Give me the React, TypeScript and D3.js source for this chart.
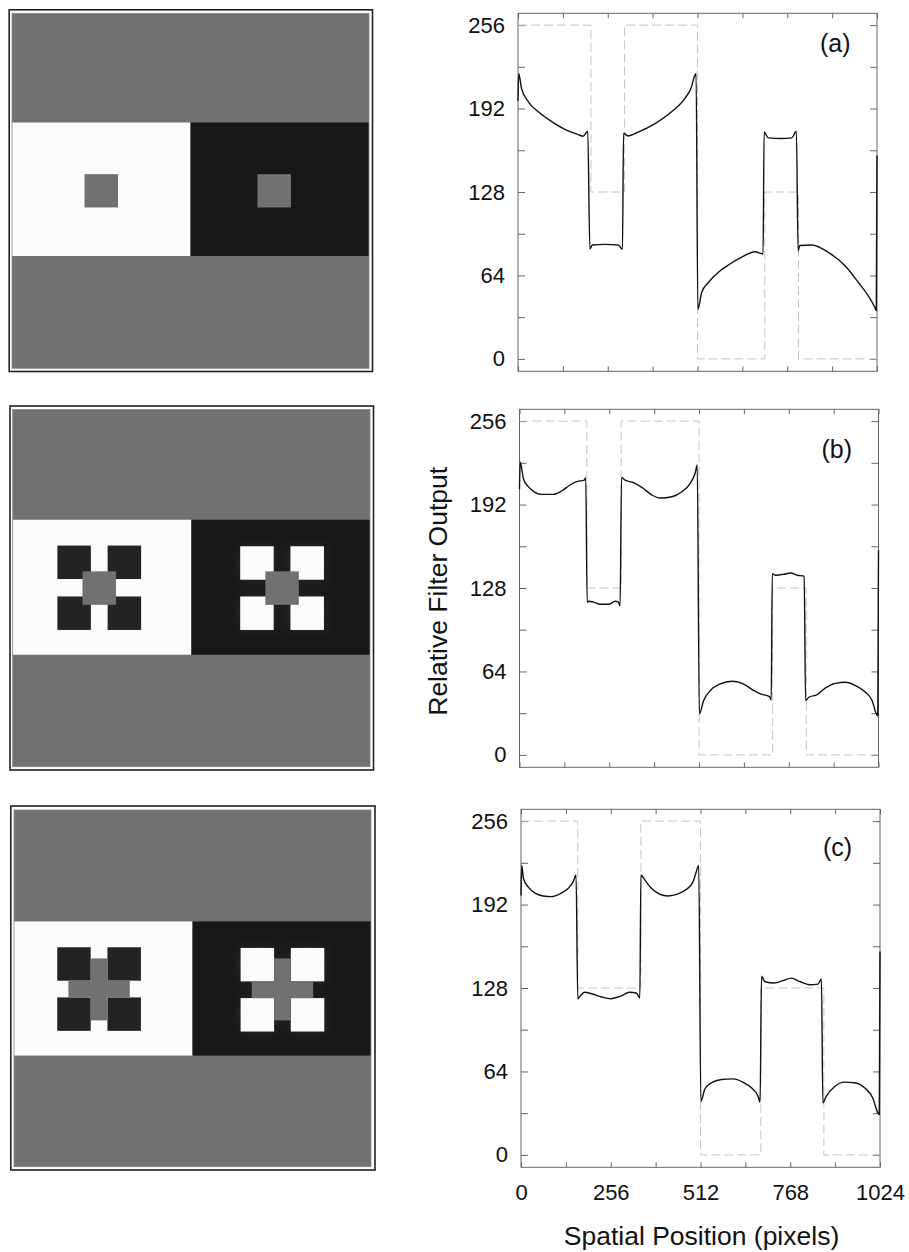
import { useEffect, useRef } from "react";
import * as d3 from "d3";

type Pt = [number, number];
type Patch = [number, number, number, number, string];

const xTicks = [0, 128, 256, 384, 512, 640, 768, 896, 1024];
const xLabels = [0, 256, 512, 768, 1024];
const yTicks = [0, 32, 64, 96, 128, 160, 192, 224, 256];
const yLabels = [0, 64, 128, 192, 256];
const panelNames = ["(a)", "(b)", "(c)"];

// input luminance profiles (dashed)
const inputA: Pt[] = [[0, 256], [208, 256], [208, 128], [304, 128], [304, 256], [512, 256], [512, 0], [704, 0], [704, 128], [800, 128], [800, 0], [1024, 0]];
const inputB: Pt[] = [[0, 256], [192, 256], [192, 128], [290, 128], [290, 256], [512, 256], [512, 0], [722, 0], [722, 128], [818, 128], [818, 0], [1024, 0]];
const inputC: Pt[] = [[0, 256], [162, 256], [162, 128], [342, 128], [342, 256], [512, 256], [512, 0], [684, 0], [684, 128], [864, 128], [864, 0], [1024, 0]];

// filter output (solid)
const outputA: Pt[] = [
  [0, 198], [2, 219], [10, 207.5], [30, 197], [58, 189.5], [96, 182], [134, 176], [172, 172], [186, 170.8], [199, 174.6],
  [205, 84.3], [212, 87.4], [248, 87.8], [286, 87.4], [298, 84], [301, 173], [314, 171], [343, 174], [391, 180.5],
  [438, 189.5], [476, 199.8], [495, 208.7], [503, 216.5], [508, 219], [513, 38], [524, 51], [543, 58.6], [571, 66.3],
  [600, 72], [638, 78], [676, 82.2], [699, 80.5], [702, 174], [714, 169.5], [752, 169], [781, 169.5], [794, 174.6],
  [799, 83], [804, 87], [838, 87.4], [885, 81.7], [933, 71.5], [971, 58.6], [999, 48.4], [1018, 39.4], [1022, 37], [1024, 156],
];
const outputB: Pt[] = [
  [0, 204], [2, 224.5], [11, 212], [25, 205.7], [44, 201.4], [63, 199.8], [96, 199.8], [120, 202.4], [144, 207],
  [163, 209.6], [185, 210.8], [189, 212.6], [193, 117.2], [197, 117.8], [211, 117.2], [230, 115.5], [254, 115.5],
  [273, 117.8], [282, 117.2], [287, 114.2], [291, 212.6], [301, 210.8], [325, 208.8], [349, 205.2], [378, 199.3],
  [401, 197], [435, 198], [463, 201.8], [487, 208.3], [501, 216], [507, 222.4], [513, 31.4], [525, 41.6], [544, 49.3],
  [573, 54.5], [606, 56.5], [635, 54.9], [663, 50.3], [687, 46.8], [713, 44.7], [718, 42.1], [721, 139], [730, 137.8],
  [754, 138.5], [773, 139.5], [792, 137.8], [812, 137], [816, 41.6], [825, 44.2], [849, 46.2], [873, 51.4], [901, 54.9],
  [930, 55.7], [958, 53.2], [987, 48], [1006, 41.6], [1018, 31.4], [1022, 30], [1024, 157],
];
const outputC: Pt[] = [
  [0, 199], [2, 222], [7, 212], [21, 205.3], [40, 200.7], [63, 198.6], [87, 198.1], [111, 200.2], [135, 204.5],
  [149, 209.6], [157, 214.7], [162, 119.6], [168, 121.6], [182, 124.7], [201, 123.6], [230, 121.1], [256, 119.8],
  [282, 121.6], [310, 124.7], [329, 124.2], [339, 120.3], [342, 214.7], [353, 210.9], [372, 204.5], [396, 199.9],
  [419, 198.6], [448, 200.2], [472, 203.7], [491, 209.6], [500, 217.2], [507, 222], [513, 41], [524, 50.2], [543, 55.3],
  [572, 57.8], [605, 58.3], [633, 55.8], [657, 51.5], [676, 45.1], [682, 40.5], [686, 137], [695, 133], [723, 131.8],
  [747, 133.6], [771, 135.6], [795, 133], [823, 130.5], [847, 131], [857, 134.9], [861, 40], [871, 45.1], [894, 52.3],
  [923, 55.8], [951, 55.3], [980, 51.5], [1003, 43.8], [1018, 32.3], [1022, 31], [1024, 156],
];

// stimulus images, in image pixels (1024 x 1024): centre band rows and patches
const bandA: Pt = [315, 700];
const bandB: Pt = [316, 703];
const bandC: Pt = [320, 705];
const patchesA: Patch[] = [
  [208, 304, 464, 560, "gray"], [704, 800, 464, 560, "gray"],
];
const patchesB: Patch[] = [
  [128, 224, 390, 486, "dark"], [272, 368, 390, 486, "dark"], [128, 224, 536, 632, "dark"], [272, 368, 536, 632, "dark"],
  [200, 296, 464, 560, "gray"],
  [652, 748, 392, 488, "white"], [796, 892, 392, 488, "white"], [652, 748, 536, 632, "white"], [796, 892, 536, 632, "white"],
  [724, 820, 464, 560, "gray"],
];
const patchesC: Patch[] = [
  [124, 220, 394, 490, "dark"], [268, 364, 394, 490, "dark"], [124, 220, 538, 634, "dark"], [268, 364, 538, 634, "dark"],
  [220, 268, 426, 604, "gray"], [156, 332, 490, 538, "gray"],
  [650, 746, 396, 492, "white"], [794, 890, 396, 492, "white"], [650, 746, 540, 636, "white"], [794, 890, 540, 636, "white"],
  [746, 794, 426, 604, "gray"], [682, 858, 492, 540, "gray"],
];

const tones: Record<string, string> = { gray: "#717171", white: "#fcfcfc", black: "#171717", dark: "#232323" };

const imgBoxes = [
  { ox: 9.2, oy: 9.8, ow: 363.3, oh: 361.7, x: 12, y: 13.3, w: 357, h: 355 },
  { ox: 10, oy: 406, ow: 363.5, oh: 364, x: 12.7, y: 409.5, w: 357.3, h: 357.2 },
  { ox: 10.8, oy: 806, ow: 364.2, oh: 364, x: 14, y: 810, w: 357, h: 356.7 },
];
const plotBoxes = [
  { left: 518, top: 13.3, labelDy: 38.5 },
  { left: 519.5, top: 409.3, labelDy: 48.5 },
  { left: 521, top: 809.3, labelDy: 46.5 },
];
const PLOT_W = 359;
const PLOT_H = 358;
const FONT = "'Liberation Sans', Arial, Helvetica, sans-serif";

const App = () => {
  const ref = useRef<SVGSVGElement>(null);

  useEffect(() => {
    const svg = d3.select(ref.current);
    svg.selectAll("*").remove();
    svg
      .append("defs")
      .append("filter")
      .attr("id", "halo")
      .attr("x", "-50%")
      .attr("y", "-50%")
      .attr("width", "200%")
      .attr("height", "200%")
      .append("feGaussianBlur")
      .attr("stdDeviation", 7);

    const bands = [bandA, bandB, bandC];
    const patches = [patchesA, patchesB, patchesC];
    imgBoxes.forEach((b, i) => drawStimulus(svg, b, bands[i], patches[i]));

    const inputs = [inputA, inputB, inputC];
    const outputs = [outputA, outputB, outputC];
    plotBoxes.forEach((p, i) => drawPlot(svg, p, inputs[i], outputs[i], panelNames[i], i === 2));

    // axis titles
    const pb = plotBoxes[1];
    svg
      .append("text")
      .attr("transform", `translate(447,${pb.top + PLOT_H / 2 + 3}) rotate(-90)`)
      .attr("text-anchor", "middle")
      .attr("font-size", 26.5)
      .attr("font-family", FONT)
      .attr("fill", "#111")
      .text("Relative Filter Output");
    const pc = plotBoxes[2];
    svg
      .append("text")
      .attr("x", pc.left + PLOT_W / 2 + 1)
      .attr("y", 1245)
      .attr("text-anchor", "middle")
      .attr("font-size", 26.5)
      .attr("font-family", FONT)
      .attr("fill", "#111")
      .text("Spatial Position (pixels)");
  }, []);

  function drawStimulus(svg: any, b: any, band: Pt, list: Patch[]) {
    const xs = d3.scaleLinear().domain([0, 1024]).range([b.x, b.x + b.w]);
    const ys = d3.scaleLinear().domain([0, 1024]).range([b.y, b.y + b.h]);
    const g = svg.append("g");
    const rect = (x0: number, x1: number, y0: number, y1: number, fill: string) =>
      g
        .append("rect")
        .attr("x", xs(x0))
        .attr("y", ys(y0))
        .attr("width", xs(x1) - xs(x0))
        .attr("height", ys(y1) - ys(y0))
        .attr("fill", fill);

    rect(0, 1024, 0, 1024, tones.gray);
    rect(0, 512, band[0], band[1], tones.white);
    rect(512, 1024, band[0], band[1], tones.black);

    // faint glow around the white squares in the dark field
    const whites = list.filter((d) => d[4] === "white");
    if (whites.length) {
      const glow = g.append("g").attr("filter", "url(#halo)").attr("opacity", 0.09);
      whites.forEach((d) =>
        glow
          .append("rect")
          .attr("x", xs(d[0]))
          .attr("y", ys(d[2]))
          .attr("width", xs(d[1]) - xs(d[0]))
          .attr("height", ys(d[3]) - ys(d[2]))
          .attr("fill", "#fff")
      );
    }
    list.forEach((d) => rect(d[0], d[1], d[2], d[3], tones[d[4]]));

    g.append("rect")
      .attr("x", b.x)
      .attr("y", b.y)
      .attr("width", b.w)
      .attr("height", b.h)
      .attr("fill", "none")
      .attr("stroke", "#8a8a8a")
      .attr("stroke-width", 0.8);
    g.append("rect")
      .attr("x", b.ox)
      .attr("y", b.oy)
      .attr("width", b.ow)
      .attr("height", b.oh)
      .attr("fill", "none")
      .attr("stroke", "#222")
      .attr("stroke-width", 1.6);
  }

  function drawPlot(svg: any, p: any, input: Pt[], output: Pt[], name: string, showX: boolean) {
    const x = d3.scaleLinear().domain([0, 1024]).range([p.left, p.left + PLOT_W]);
    const y = d3.scaleLinear().domain([0, 256]).range([p.top + 345.6, p.top + 11.8]);
    const g = svg.append("g").attr("font-family", FONT);

    const styleAxis = (a: any) => {
      a.select(".domain").remove();
      a.selectAll(".tick line").attr("stroke", "#666").attr("stroke-width", 1);
      a.selectAll(".tick text").attr("fill", "#111").attr("font-size", 22).attr("font-family", FONT);
    };

    g.append("g")
      .attr("transform", `translate(${p.left},0)`)
      .call(
        d3.axisLeft(y).tickValues(yTicks).tickSize(-7).tickPadding(13)
          .tickFormat((d: any) => (yLabels.includes(d) ? String(d) : ""))
      )
      .call(styleAxis);
    g.append("g")
      .attr("transform", `translate(${p.left + PLOT_W},0)`)
      .call(d3.axisRight(y).tickValues(yTicks).tickSize(-7).tickFormat(() => ""))
      .call(styleAxis);
    g.append("g")
      .attr("transform", `translate(0,${p.top + PLOT_H})`)
      .call(
        d3.axisBottom(x).tickValues(xTicks).tickSize(-5).tickPadding(17)
          .tickFormat((d: any) => (showX && xLabels.includes(d) ? String(d) : ""))
      )
      .call(styleAxis);
    g.append("g")
      .attr("transform", `translate(0,${p.top})`)
      .call(d3.axisTop(x).tickValues(xTicks).tickSize(-5).tickFormat(() => ""))
      .call(styleAxis);

    g.append("rect")
      .attr("x", p.left)
      .attr("y", p.top)
      .attr("width", PLOT_W)
      .attr("height", PLOT_H)
      .attr("fill", "none")
      .attr("stroke", "#666")
      .attr("stroke-width", 1);

    const dashed = d3.line<Pt>().x((d) => x(d[0])).y((d) => y(d[1]));
    g.append("path")
      .attr("d", dashed(input))
      .attr("fill", "none")
      .attr("stroke", "#c6c6c6")
      .attr("stroke-width", 1)
      .attr("stroke-dasharray", "9,4");

    const solid = d3.line<Pt>().x((d) => x(d[0])).y((d) => y(d[1])).curve(d3.curveMonotoneX);
    g.append("path")
      .attr("d", solid(output))
      .attr("fill", "none")
      .attr("stroke", "#111")
      .attr("stroke-width", 1.4)
      .attr("stroke-linejoin", "round");

    g.append("text")
      .attr("x", p.left + 302)
      .attr("y", p.top + p.labelDy)
      .attr("font-size", 25)
      .attr("fill", "#111")
      .text(name);
  }

  return (
    <svg
      ref={ref}
      width={909}
      height={1252}
      style={{ position: "absolute", left: 0, top: 0, background: "#fff" }}
    ></svg>
  );
};

export default App;
